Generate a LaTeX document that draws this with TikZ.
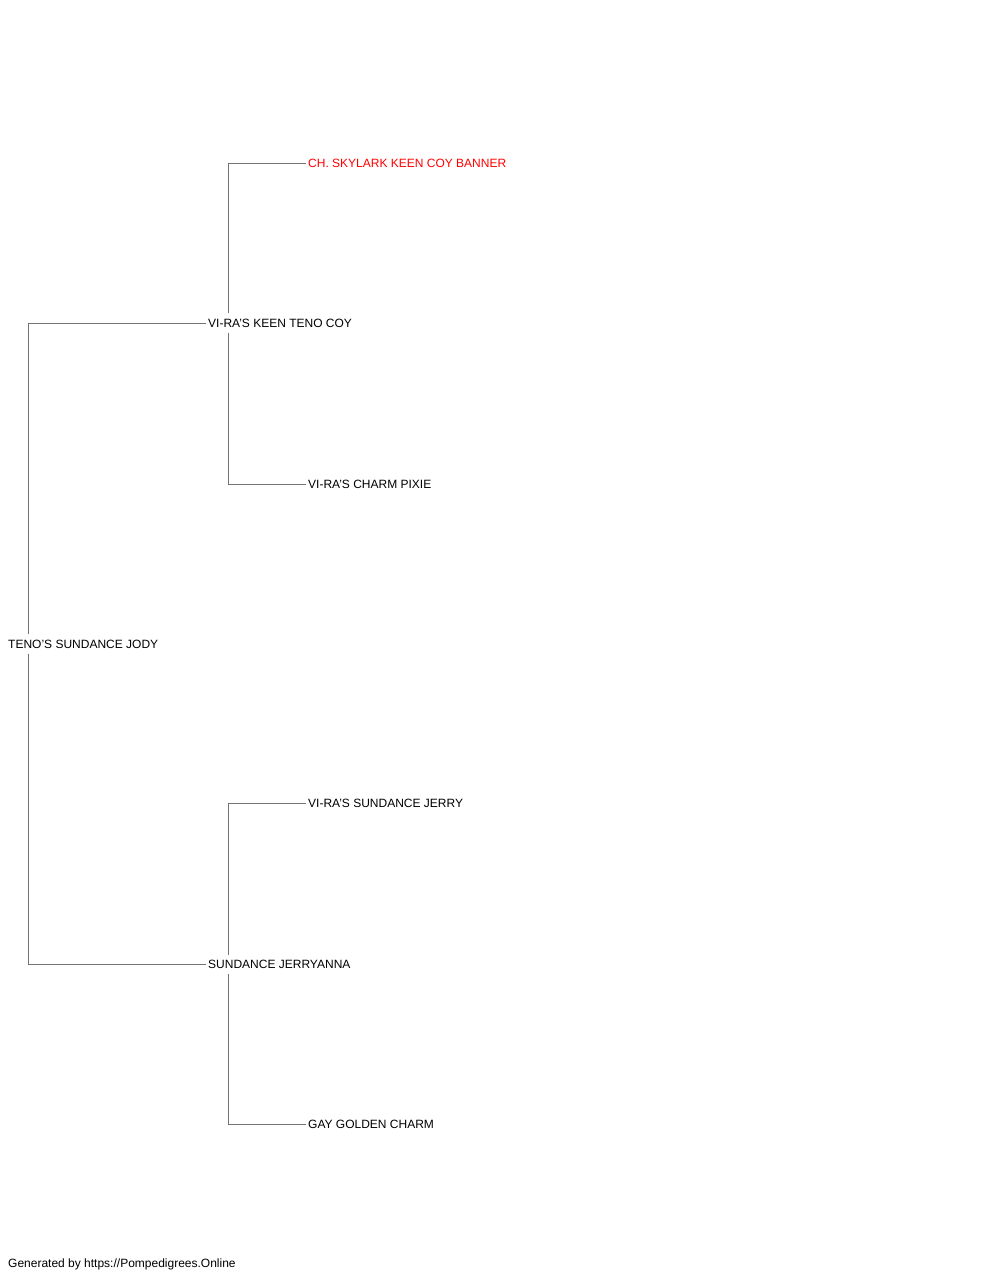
\documentclass[tikz,border=0pt]{standalone}
\usepackage{fontspec}
\setmainfont{Liberation Sans}
\usetikzlibrary{positioning}

\begin{document}
\begin{tikzpicture}[x=1pt,y=-1pt,
        dog/.style={anchor=west,inner xsep=2pt,inner ysep=0pt,minimum height=19pt,font=\fontsize{12}{14}\selectfont},
        link/.style={draw=black!55,line width=1pt}]
            \colorlet{champRed}{red}
            \useasboundingbox[fill=white] (0,0) rectangle (1000,1280);
            % generations
            \node[dog] (jody) at (6,644) {TENO'S SUNDANCE JODY};
            \node[dog] (keen) at (206,323) {VI-RA'S KEEN TENO COY};
            \node[dog] (jerryanna) at (206,964.5) {SUNDANCE JERRYANNA};
            \node[dog,text=champRed] (banner) at (306,163) {CH. SKYLARK KEEN COY BANNER};
            \node[dog] (pixie) at (306,484.5) {VI-RA'S CHARM PIXIE};
            \node[dog] (jerry) at (306,803) {VI-RA'S SUNDANCE JERRY};
            \node[dog] (golden) at (306,1124.5) {GAY GOLDEN CHARM};
            \foreach \kid/\sire/\dam in {jody/keen/jerryanna,keen/banner/pixie,jerryanna/jerry/golden}
                {   \draw[link] ([xshift=22pt]\kid.north west) |- (\sire.west);
                    \draw[link] ([xshift=22pt]\kid.south west) |- (\dam.west);
                }
            \node[dog] (credit) at (6,1264) {Generated by https://Pompedigrees.Online};
        \end{tikzpicture}
\end{document}
